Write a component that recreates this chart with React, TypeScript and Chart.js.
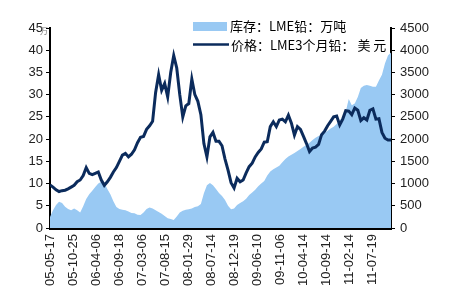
import React, { useEffect, useRef } from "react";
import { Chart, registerables } from "chart.js";

Chart.register(...registerables);

// x tick labels (dates, one every ~110 trading days)
const tickLabels = [
  "05-05-17", "05-10-25", "06-04-06", "06-09-18", "07-03-06", "07-08-15", "08-01-29",
  "08-07-14", "08-12-19", "09-06-10", "09-11-06", "10-04-14", "10-09-14", "11-02-14", "11-07-19",
];
const TICK_STEP = 110; // trading days between labels
const SAMPLE_STEP = 14.4; // trading days between samples

// LME 3-month lead price (USD/t)
const price = [
  970, 920, 860, 820, 840, 850, 880, 920, 960, 1040, 1080, 1180, 1360, 1230, 1200, 1230,
  1260, 1080, 960, 1040, 1140, 1260, 1360, 1500, 1640, 1680, 1600, 1660, 1760, 1920, 2040,
  2060, 2220, 2300, 2400, 3050, 3450, 3100, 3250, 2950, 3500, 3880, 3600, 3000, 2500, 2750,
  2800, 3350, 3000, 2850, 2550, 1900, 1600, 2050, 2150, 1950, 1950, 1850, 1550, 1300, 1020,
  900, 1120, 1040, 1080, 1240, 1380, 1460, 1600, 1700, 1780, 1930, 1940, 2280, 2390, 2280,
  2430, 2450, 2390, 2540, 2360, 2090, 2280, 2220, 2060, 1900, 1720, 1800, 1820, 1880, 2100,
  2180, 2300, 2400, 2500, 2520, 2320, 2450, 2640, 2630, 2550, 2700, 2650, 2420, 2480, 2430,
  2650, 2680, 2450, 2460, 2150, 2020, 1980, 1980,
];

// LME lead stocks (10k tonnes)
const stocks = [
  2.5, 4.0, 5.2, 5.9, 5.6, 4.8, 4.3, 4.0, 4.4, 4.0, 3.5, 4.9, 6.5, 7.6, 8.4, 9.2, 10.0,
  10.4, 10.2, 8.8, 7.6, 6.0, 4.7, 4.3, 4.1, 4.0, 3.7, 3.4, 3.3, 3.0, 2.9, 3.5, 4.3, 4.6,
  4.4, 4.0, 3.6, 3.2, 2.7, 2.2, 2.0, 1.8, 2.6, 3.5, 3.9, 4.1, 4.2, 4.4, 4.7, 4.9, 5.4, 7.8,
  9.6, 10.1, 9.6, 8.8, 7.9, 7.2, 6.3, 5.0, 4.2, 4.4, 5.2, 5.6, 6.0, 6.6, 7.4, 8.0, 8.6,
  9.4, 10.0, 10.6, 11.8, 12.7, 13.2, 13.6, 14.0, 14.8, 15.5, 16.1, 16.5, 16.9, 17.3, 17.8,
  18.3, 18.7, 19.2, 19.8, 20.3, 20.7, 21.0, 21.4, 21.9, 22.4, 22.8, 23.4, 24.2, 25.0, 26.2,
  29.0, 27.6, 28.0, 29.5, 31.5, 32.0, 32.2, 32.0, 31.8, 31.8, 33.2, 34.5, 37.0, 38.8, 39.5,
];

const stockLabel = "库存：LME铅：万吨";
const priceLabel = "价格：LME3个月铅： 美 元";

const AREA_COLOR = "#99c9f3";
const LINE_COLOR = "#0b2b5c";

const decorPlugin = {
  id: "decor",
  afterDraw(chart: any) {
    const ctx = chart.ctx;
    const ds = chart.data.datasets;
    ctx.save();
    // small unit mark near top-left tick
    ctx.fillStyle = "#777";
    ctx.font = "8px 'Noto Sans CJK SC'";
    ctx.textBaseline = "middle";
    ctx.textAlign = "left";
    ctx.fillText("万", 40, 31);
    // legend
    ctx.font = "13px 'Noto Sans CJK SC'";
    ctx.fillStyle = AREA_COLOR;
    ctx.fillRect(193, 22, 34, 9);
    ctx.fillStyle = "#000";
    ctx.fillText(ds[1].label, 230, 26.5);
    ctx.strokeStyle = LINE_COLOR;
    ctx.lineWidth = 2.5;
    ctx.beginPath();
    ctx.moveTo(193, 44.5);
    ctx.lineTo(229, 44.5);
    ctx.stroke();
    ctx.fillStyle = "#000";
    ctx.fillText(ds[0].label, 231, 45.5);
    ctx.restore();
  },
};

export default function App() {
  const ref = useRef<HTMLCanvasElement>(null);
  useEffect(() => {
    const xMax = (price.length - 1) * SAMPLE_STEP;
    const chart = new Chart(ref.current!, {
      type: "line",
      data: {
        datasets: [
          {
            label: priceLabel,
            data: price.map((v, i) => ({ x: i * SAMPLE_STEP, y: v })),
            yAxisID: "y2",
            borderColor: LINE_COLOR,
            borderWidth: 3,
            pointRadius: 0,
            tension: 0,
            fill: false,
            order: 0,
          },
          {
            label: stockLabel,
            data: stocks.map((v, i) => ({ x: i * SAMPLE_STEP, y: v })),
            yAxisID: "y",
            borderWidth: 0,
            borderColor: AREA_COLOR,
            backgroundColor: AREA_COLOR,
            pointRadius: 0,
            fill: "origin",
            order: 1,
          },
        ],
      },
      options: {
        animation: false,
        responsive: true,
        maintainAspectRatio: false,
        layout: { padding: { top: 28, left: 0, right: 0, bottom: 0 } },
        plugins: { legend: { display: false }, tooltip: { enabled: false } },
        scales: {
          x: {
            type: "linear",
            min: 0,
            max: xMax,
            afterBuildTicks: (scale: any) => {
              scale.ticks = tickLabels.map((_, k) => ({ value: k * TICK_STEP }));
            },
            afterFit: (scale: any) => {
              scale.height = 72;
            },
            ticks: {
              autoSkip: false,
              minRotation: 90,
              maxRotation: 90,
              padding: 6,
              color: "#222",
              font: { family: "'Liberation Sans', Arial", size: 13 },
              callback: (v: any) => tickLabels[Math.round(Number(v) / TICK_STEP)] ?? "",
            },
            grid: { display: false, drawTicks: false },
            border: { display: true, color: "#000", width: 3 },
          },
          y: {
            position: "left",
            min: 0,
            max: 45,
            afterFit: (scale: any) => {
              scale.width = 50;
            },
            ticks: {
              stepSize: 5,
              padding: 3,
              color: "#222",
              font: { family: "'Liberation Sans', Arial", size: 13 },
              callback: (v: any) => String(v),
            },
            grid: { drawOnChartArea: false, drawTicks: true, tickLength: 4, color: "#000" },
            border: { display: true, color: "#000", width: 2 },
          },
          y2: {
            position: "right",
            min: 0,
            max: 4500,
            afterFit: (scale: any) => {
              scale.width = 59;
            },
            ticks: {
              stepSize: 500,
              padding: 5,
              color: "#222",
              font: { family: "'Liberation Sans', Arial", size: 13 },
              callback: (v: any) => String(v),
            },
            grid: { drawOnChartArea: false, drawTicks: true, tickLength: 4, color: "#000" },
            border: { display: true, color: "#000", width: 2 },
          },
        },
      },
      plugins: [decorPlugin],
    } as any);
    return () => chart.destroy();
  }, []);
  return (
    <div style={{ position: "absolute", left: 0, top: 0, width: 450, height: 300, background: "#fff" }}>
      <canvas ref={ref} />
    </div>
  );
}
